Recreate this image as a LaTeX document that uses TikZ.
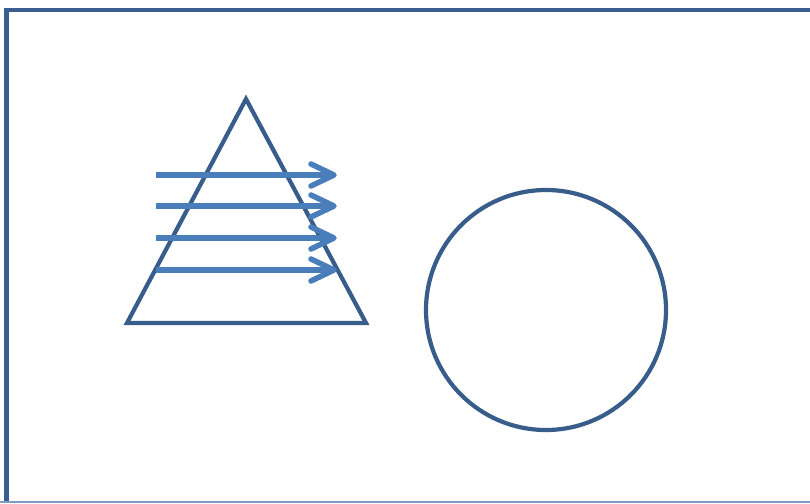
\documentclass[tikz,border=0pt]{standalone}
\begin{document}
\begin{tikzpicture}[x=1pt,y=-1pt,
  frame/.style={draw=frameblue,line width=4.5pt},
  shapeline/.style={draw=shapeblue,line width=4.2pt,line join=miter},
  arrowline/.style={draw=arrowblue,line width=5.5pt},
  chevron/.style={draw=arrowblue,line width=5.5pt,line cap=round,line join=round}]
\definecolor{frameblue}{HTML}{3A5D8F}
\definecolor{shapeblue}{HTML}{385D8A}
\definecolor{arrowblue}{HTML}{4A7EBB}
\definecolor{bottomline}{HTML}{7F9CC2}
\useasboundingbox (0,0) rectangle (810,503);
\fill[white] (0,0) rectangle (810,503);
% frame
\draw[frame] (6.5,503) -- (6.5,10) -- (812,10);
\draw[bottomline,line width=1.5pt] (0,502) -- (810,502);
% triangle
\draw[shapeline] (246,99) -- (366,323) -- (127,323) -- cycle;
% circle
\draw[shapeline] (546,310) circle (120);
% arrows
\foreach \y in {175,206,238,270}{
  \draw[arrowline] (156,\y) -- (333,\y);
  \draw[chevron] (311,\y-11) -- (334,\y) -- (311,\y+11);
}
\end{tikzpicture}
\end{document}
